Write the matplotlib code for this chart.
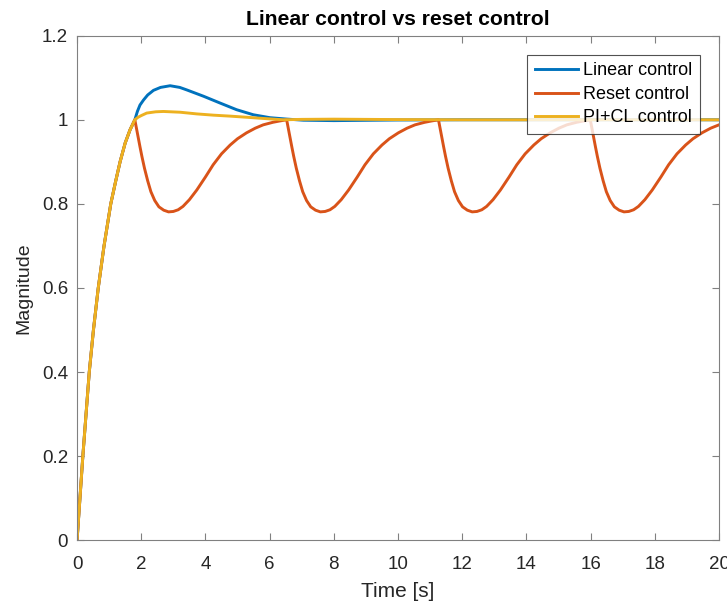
import matplotlib
matplotlib.use("Agg")
import matplotlib.pyplot as plt

plt.rcParams['font.family'] = ['Liberation Sans', 'DejaVu Sans']

# common rise (all three curves overlap until t = 1.8 s)
t_rise = [0.0, 0.09, 0.18, 0.28, 0.38, 0.51, 0.66, 0.84, 1.05, 1.2, 1.34, 1.5, 1.65, 1.8]
y_rise = [0.0, 0.1, 0.2, 0.3, 0.4, 0.5, 0.6, 0.7, 0.8, 0.853, 0.9, 0.945, 0.976, 1.0]

# linear control after the rise
t_lin = [1.88, 1.96, 2.07, 2.2, 2.38, 2.6, 2.9, 3.2, 3.42, 3.94, 4.45, 4.97, 5.49, 6.01, 6.53, 7.05, 8.0, 10.0, 12.0, 20.0]
y_lin = [1.02, 1.035, 1.047, 1.059, 1.07, 1.077, 1.081, 1.077, 1.071, 1.056, 1.040, 1.024, 1.012, 1.005, 1.0017, 0.999, 0.998, 0.9995, 1.0, 1.0]

# PI+CL control after the rise
t_pcl = [1.9, 2.0, 2.17, 2.45, 2.69, 3.21, 3.73, 4.25, 4.77, 5.29, 5.8, 6.43, 7.0, 8.0, 9.0, 10.0, 12.0, 20.0]
y_pcl = [1.006, 1.01, 1.016, 1.019, 1.0198, 1.018, 1.014, 1.011, 1.0087, 1.006, 1.0032, 1.0, 1.001, 1.0015, 1.001, 1.0005, 1.0, 1.0]

# reset control after the rise (resets at ~1.80, 6.53, 11.26, 15.99 s)
t_rst = [1.85, 1.90, 1.96, 2.02, 2.10, 2.20, 2.30, 2.42, 2.55, 2.70, 2.85, 3.00, 3.15, 3.30, 3.50,
         3.73, 4.00, 4.24, 4.50, 4.77, 5.00, 5.28, 5.55, 5.80, 6.10, 6.30, 6.53,
         6.58, 6.63, 6.69, 6.75, 6.83, 6.93, 7.03, 7.15, 7.28, 7.43, 7.58, 7.73, 7.88, 8.03, 8.23,
         8.46, 8.73, 8.97, 9.23, 9.50, 9.73, 10.01, 10.28, 10.53, 10.83, 11.03, 11.26,
         11.31, 11.36, 11.42, 11.48, 11.56, 11.66, 11.76, 11.88, 12.01, 12.16, 12.31, 12.46, 12.61, 12.76, 12.96,
         13.19, 13.46, 13.70, 13.96, 14.23, 14.46, 14.74, 15.01, 15.26, 15.56, 15.76, 15.99,
         16.04, 16.09, 16.15, 16.21, 16.29, 16.39, 16.49, 16.61, 16.74, 16.89, 17.04, 17.19, 17.34, 17.49, 17.69,
         17.92, 18.19, 18.43, 18.69, 18.96, 19.19, 19.47, 19.74, 20.0]
y_rst = [0.98, 0.96, 0.936, 0.913, 0.885, 0.855, 0.829, 0.808, 0.793, 0.785, 0.781, 0.782, 0.786, 0.794, 0.810,
         0.833, 0.864, 0.893, 0.919, 0.94, 0.955, 0.969, 0.98, 0.988, 0.994, 0.997, 1.0,
         0.98, 0.96, 0.936, 0.913, 0.885, 0.855, 0.829, 0.808, 0.793, 0.785, 0.781, 0.782, 0.786, 0.794, 0.810,
         0.833, 0.864, 0.893, 0.919, 0.94, 0.955, 0.969, 0.98, 0.988, 0.994, 0.997, 1.0,
         0.98, 0.96, 0.936, 0.913, 0.885, 0.855, 0.829, 0.808, 0.793, 0.785, 0.781, 0.782, 0.786, 0.794, 0.810,
         0.833, 0.864, 0.893, 0.919, 0.94, 0.955, 0.969, 0.98, 0.988, 0.994, 0.997, 1.0,
         0.98, 0.96, 0.936, 0.913, 0.885, 0.855, 0.829, 0.808, 0.793, 0.785, 0.781, 0.782, 0.786, 0.794, 0.810,
         0.833, 0.864, 0.893, 0.919, 0.94, 0.955, 0.969, 0.98, 0.988]

labels = ["Linear control", "Reset control", "PI+CL control"]
colors = ["#0072BD", "#D95319", "#EDB120"]

fig = plt.figure(figsize=(7.27, 6.05), dpi=100)
ax = fig.add_axes([0.106, 0.107, 0.883, 0.834])

ax.plot(t_rise + t_lin, y_rise + y_lin, color=colors[0], lw=2.1, label=labels[0])
ax.plot(t_rise + t_rst, y_rise + y_rst, color=colors[1], lw=2.1, label=labels[1])
ax.plot(t_rise + t_pcl, y_rise + y_pcl, color=colors[2], lw=2.1, label=labels[2])

ax.set_xlim(0, 20)
ax.set_ylim(0, 1.2)
ax.set_xticks(range(0, 21, 2))
ax.set_yticks([0, 0.2, 0.4, 0.6, 0.8, 1.0, 1.2])
ax.set_yticklabels(["0", "0.2", "0.4", "0.6", "0.8", "1", "1.2"])

axcol = "#262626"
for s in ax.spines.values():
    s.set_color("#808080")
    s.set_linewidth(0.8)
ax.tick_params(direction="in", length=5, width=0.8, color="#808080", labelcolor=axcol,
               labelsize=13.5, top=True, right=True)
ax.tick_params(axis="x", pad=11)
ax.tick_params(axis="y", pad=6.5)

ax.set_title("Linear control vs reset control", fontsize=15.2, fontweight="bold", color="black", pad=7.5)
ax.set_xlabel("Time [s]", fontsize=15, color=axcol, labelpad=6.5)
ax.set_ylabel("Magnitude", fontsize=14, color=axcol, labelpad=7)

leg = ax.legend(loc="upper right", bbox_to_anchor=(0.970, 0.962), fontsize=13, frameon=True, fancybox=False,
                handlelength=2.4, handletextpad=0.25, borderpad=0.42, labelspacing=0.36, borderaxespad=0)
leg.get_frame().set_edgecolor("#262626")
leg.get_frame().set_linewidth(0.8)

fig.savefig("out.png", dpi=100)
